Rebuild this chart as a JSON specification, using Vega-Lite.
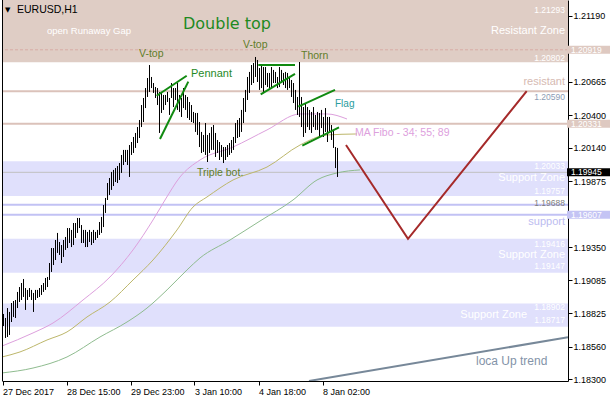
{
  "$schema": "https://vega.github.io/schema/vega-lite/v6.json",
  "width": 566,
  "height": 381,
  "autosize": "none",
  "padding": {"left": 2, "top": 0, "right": 42, "bottom": 19},
  "background": "white",
  "view": {"stroke": null},
  "config": {
    "text": {"font": "Liberation Sans"},
    "axis": {"labelOverlap": false, "labelFlush": false, "grid": false, "tickColor": "black", "domainColor": "black", "labelColor": "black", "labelFont": "Liberation Sans", "labelFontSize": 9, "tickSize": 4}
  },
  "resolve": {"scale": {"color": "independent"}},
  "datasets": {
    "zones": [
      {"p": 1.2082, "p2": 1.2135, "k": "r"},
      {"p": 1.19757, "p2": 1.20033, "k": "s"},
      {"p": 1.19147, "p2": 1.19416, "k": "s"},
      {"p": 1.18717, "p2": 1.18902, "k": "s"}
    ],
    "hlines": [
      {"p": 1.2059, "k": "r"},
      {"p": 1.20331, "k": "r"},
      {"p": 1.19688, "k": "s"},
      {"p": 1.19607, "k": "s"}
    ],
    "bars": [
      {"i":0,"h":1.18819,"l":1.18723},{"i":1,"h":1.18787,"l":1.18628},{"i":2,"h":1.18866,"l":1.18636},{"i":3,"h":1.18835,"l":1.18652},
      {"i":4,"h":1.18906,"l":1.18755},{"i":5,"h":1.18922,"l":1.18795},{"i":6,"h":1.1893,"l":1.18787},{"i":7,"h":1.18994,"l":1.18866},
      {"i":8,"h":1.19033,"l":1.18914},{"i":9,"h":1.19065,"l":1.1893},{"i":10,"h":1.19097,"l":1.18954},{"i":11,"h":1.19025,"l":1.18851},
      {"i":12,"h":1.1901,"l":1.1893},{"i":13,"h":1.19025,"l":1.18954},{"i":14,"h":1.1901,"l":1.1893},{"i":15,"h":1.18986,"l":1.18835},
      {"i":16,"h":1.1901,"l":1.1893},{"i":17,"h":1.1901,"l":1.18946},{"i":18,"h":1.19025,"l":1.18954},{"i":19,"h":1.19049,"l":1.1897},
      {"i":20,"h":1.19065,"l":1.18994},{"i":21,"h":1.19105,"l":1.1901},{"i":22,"h":1.19113,"l":1.19033},{"i":23,"h":1.19224,"l":1.19089},
      {"i":24,"h":1.19343,"l":1.19153},{"i":25,"h":1.19343,"l":1.19208},{"i":26,"h":1.19407,"l":1.19248},{"i":27,"h":1.19463,"l":1.19304},
      {"i":28,"h":1.19391,"l":1.19288},{"i":29,"h":1.19367,"l":1.19224},{"i":30,"h":1.19407,"l":1.19272},{"i":31,"h":1.19431,"l":1.19328},
      {"i":32,"h":1.19502,"l":1.19343},{"i":33,"h":1.19502,"l":1.19383},{"i":34,"h":1.19487,"l":1.19351},{"i":35,"h":1.19542,"l":1.19367},
      {"i":36,"h":1.19542,"l":1.19423},{"i":37,"h":1.19582,"l":1.19463},{"i":38,"h":1.19582,"l":1.19502},{"i":39,"h":1.19526,"l":1.19383},
      {"i":40,"h":1.19487,"l":1.19383},{"i":41,"h":1.19487,"l":1.19351},{"i":42,"h":1.19471,"l":1.19351},{"i":43,"h":1.19487,"l":1.19391},
      {"i":44,"h":1.19471,"l":1.19367},{"i":45,"h":1.19487,"l":1.19383},{"i":46,"h":1.19471,"l":1.19407},{"i":47,"h":1.19487,"l":1.19423},
      {"i":48,"h":1.1955,"l":1.19447},{"i":49,"h":1.1959,"l":1.19463},{"i":50,"h":1.19685,"l":1.1951},{"i":51,"h":1.19741,"l":1.19622},
      {"i":52,"h":1.1986,"l":1.19725},{"i":53,"h":1.199,"l":1.19765},{"i":54,"h":1.19948,"l":1.19805},{"i":55,"h":1.19964,"l":1.19836},
      {"i":56,"h":1.19979,"l":1.19868},{"i":57,"h":1.19995,"l":1.1986},{"i":58,"h":1.20019,"l":1.19884},{"i":59,"h":1.20083,"l":1.1994},
      {"i":60,"h":1.20123,"l":1.20003},{"i":61,"h":1.20123,"l":1.20027},{"i":62,"h":1.20123,"l":1.20003},{"i":63,"h":1.20162,"l":1.19908},
      {"i":64,"h":1.20186,"l":1.20083},{"i":65,"h":1.20226,"l":1.20099},{"i":66,"h":1.20258,"l":1.20139},{"i":67,"h":1.20305,"l":1.20178},
      {"i":68,"h":1.20361,"l":1.20218},{"i":69,"h":1.2048,"l":1.20305},{"i":70,"h":1.20536,"l":1.20345},{"i":71,"h":1.20615,"l":1.20456},
      {"i":72,"h":1.20695,"l":1.20544},{"i":73,"h":1.20798,"l":1.20584},{"i":74,"h":1.20703,"l":1.20615},{"i":75,"h":1.20655,"l":1.20576},
      {"i":76,"h":1.20623,"l":1.20536},{"i":77,"h":1.20615,"l":1.2048},{"i":78,"h":1.20584,"l":1.20258},{"i":79,"h":1.20584,"l":1.20417},
      {"i":80,"h":1.2056,"l":1.20441},{"i":81,"h":1.2056,"l":1.2048},{"i":82,"h":1.20584,"l":1.20504},{"i":83,"h":1.20536,"l":1.20401},
      {"i":84,"h":1.20655,"l":1.20536},{"i":85,"h":1.20615,"l":1.20464},{"i":86,"h":1.20615,"l":1.2052},{"i":87,"h":1.20655,"l":1.20441},
      {"i":88,"h":1.2056,"l":1.20425},{"i":89,"h":1.20536,"l":1.20385},{"i":90,"h":1.20615,"l":1.20456},{"i":91,"h":1.2056,"l":1.20441},
      {"i":92,"h":1.20544,"l":1.20377},{"i":93,"h":1.20504,"l":1.20361},{"i":94,"h":1.2048,"l":1.20345},{"i":95,"h":1.20425,"l":1.20337},
      {"i":96,"h":1.20417,"l":1.20266},{"i":97,"h":1.20417,"l":1.20242},{"i":98,"h":1.20345,"l":1.20146},{"i":99,"h":1.20266,"l":1.20099},
      {"i":100,"h":1.20242,"l":1.20107},{"i":101,"h":1.20337,"l":1.20083},{"i":102,"h":1.20242,"l":1.20027},{"i":103,"h":1.20258,"l":1.20099},
      {"i":104,"h":1.20305,"l":1.20123},{"i":105,"h":1.20321,"l":1.20123},{"i":106,"h":1.20258,"l":1.20067},{"i":107,"h":1.20202,"l":1.20099},
      {"i":108,"h":1.20186,"l":1.20043},{"i":109,"h":1.20162,"l":1.20067},{"i":110,"h":1.20146,"l":1.20019},{"i":111,"h":1.20146,"l":1.20043},
      {"i":112,"h":1.20162,"l":1.20067},{"i":113,"h":1.20178,"l":1.20083},{"i":114,"h":1.20202,"l":1.20099},{"i":115,"h":1.20226,"l":1.20123},
      {"i":116,"h":1.20337,"l":1.20178},{"i":117,"h":1.20361,"l":1.20218},{"i":118,"h":1.20377,"l":1.20226},{"i":119,"h":1.20441,"l":1.20266},
      {"i":120,"h":1.20536,"l":1.20337},{"i":121,"h":1.206,"l":1.20425},{"i":122,"h":1.20703,"l":1.2052},{"i":123,"h":1.20743,"l":1.20576},
      {"i":124,"h":1.20798,"l":1.20639},{"i":125,"h":1.20814,"l":1.20655},{"i":126,"h":1.20862,"l":1.20703},{"i":127,"h":1.20838,"l":1.20663},
      {"i":128,"h":1.20774,"l":1.206},{"i":129,"h":1.20798,"l":1.20615},{"i":130,"h":1.20782,"l":1.20584},{"i":131,"h":1.20782,"l":1.20639},
      {"i":132,"h":1.20735,"l":1.20623},{"i":133,"h":1.20735,"l":1.206},{"i":134,"h":1.20782,"l":1.20623},{"i":135,"h":1.20759,"l":1.20655},
      {"i":136,"h":1.20743,"l":1.20655},{"i":137,"h":1.20703,"l":1.20615},{"i":138,"h":1.20782,"l":1.20623},{"i":139,"h":1.20759,"l":1.20655},
      {"i":140,"h":1.20735,"l":1.20639},{"i":141,"h":1.20743,"l":1.20615},{"i":142,"h":1.20735,"l":1.206},{"i":143,"h":1.20703,"l":1.20615},
      {"i":144,"h":1.20679,"l":1.20544},{"i":145,"h":1.20655,"l":1.20496},{"i":146,"h":1.206,"l":1.20441},{"i":147,"h":1.20544,"l":1.20401},
      {"i":148,"h":1.20822,"l":1.20385},{"i":149,"h":1.20544,"l":1.20305},{"i":150,"h":1.20464,"l":1.20226},{"i":151,"h":1.20496,"l":1.20258},
      {"i":152,"h":1.20464,"l":1.20305},{"i":153,"h":1.20441,"l":1.20282},{"i":154,"h":1.20425,"l":1.20258},{"i":155,"h":1.20464,"l":1.20305},
      {"i":156,"h":1.20401,"l":1.20282},{"i":157,"h":1.20425,"l":1.20282},{"i":158,"h":1.20417,"l":1.20226},{"i":159,"h":1.20441,"l":1.20297},
      {"i":160,"h":1.20385,"l":1.20226},{"i":161,"h":1.20456,"l":1.20266},{"i":162,"h":1.20385,"l":1.20186},{"i":163,"h":1.20385,"l":1.20258},
      {"i":164,"h":1.20321,"l":1.20202},{"i":165,"h":1.20282,"l":1.20139},{"i":166,"h":1.20146,"l":1.19979},{"i":167,"h":1.20139,"l":1.19908}
    ],
    "mas": [
      {"m":"34","i":-0.75,"p":1.18564},{"m":"34","i":14.75,"p":1.18668},{"m":"34","i":24.75,"p":1.18747},{"m":"34","i":39.75,"p":1.1893},
      {"m":"34","i":53.25,"p":1.19113},{"m":"34","i":64.75,"p":1.19328},{"m":"34","i":74.75,"p":1.19566},{"m":"34","i":80.75,"p":1.19725},
      {"m":"34","i":88.25,"p":1.19908},{"m":"34","i":98.25,"p":1.20043},{"m":"34","i":114.75,"p":1.20146},{"m":"34","i":131.75,"p":1.20282},
      {"m":"34","i":148.25,"p":1.20409},{"m":"34","i":161.75,"p":1.20409},{"m":"34","i":171.75,"p":1.20369},
      {"m":"55","i":-0.75,"p":1.18477},{"m":"55","i":8.25,"p":1.18517},{"m":"55","i":21.75,"p":1.18612},{"m":"55","i":31.75,"p":1.18676},
      {"m":"55","i":41.75,"p":1.18795},{"m":"55","i":53.25,"p":1.18914},{"m":"55","i":64.75,"p":1.19089},{"m":"55","i":74.75,"p":1.19248},
      {"m":"55","i":86.75,"p":1.19487},{"m":"55","i":94.75,"p":1.19669},{"m":"55","i":101.75,"p":1.19749},{"m":"55","i":114.75,"p":1.19884},
      {"m":"55","i":131.75,"p":1.19987},{"m":"55","i":148.25,"p":1.20162},{"m":"55","i":161.75,"p":1.20242},{"m":"55","i":176.75,"p":1.2025},
      {"m":"89","i":-0.75,"p":1.1835},{"m":"89","i":14.75,"p":1.18389},{"m":"89","i":31.75,"p":1.18477},{"m":"89","i":48.25,"p":1.18636},
      {"m":"89","i":61.75,"p":1.18755},{"m":"89","i":71.75,"p":1.18866},{"m":"89","i":81.75,"p":1.1901},{"m":"89","i":91.75,"p":1.19169},
      {"m":"89","i":98.25,"p":1.19264},{"m":"89","i":113.25,"p":1.19407},{"m":"89","i":128.25,"p":1.19558},{"m":"89","i":144.75,"p":1.19725},
      {"m":"89","i":156.75,"p":1.19884},{"m":"89","i":166.75,"p":1.1994},{"m":"89","i":178.25,"p":1.19964}
    ],
    "segs": [
      {"i":76.6,"p":1.20554,"i2":91.6,"p2":1.20713},
      {"i":78.25,"p":1.2021,"i2":92.4,"p2":1.20666},
      {"i":127.4,"p":1.20798,"i2":145.75,"p2":1.20798},
      {"i":128.6,"p":1.20565,"i2":145.75,"p2":1.20727},
      {"i":147.4,"p":1.20467,"i2":165.75,"p2":1.206},
      {"i":149.4,"p":1.20157,"i2":167.75,"p2":1.20303}
    ],
    "proj": [
      {"i":171.25,"p":1.20162,"o":1},
      {"i":202.25,"p":1.19416,"o":2},
      {"i":261.6,"p":1.2059,"o":3}
    ],
    "trend": [{"i":152.75,"p":1.18286,"i2":282.25,"p2":1.18634}],
    "texts": [
      {"t":"▼","i":0.75,"p":1.21236,"s":"tri"},
      {"t":"EURUSD,H1","i":6.75,"p":1.21236,"s":"title"},
      {"t":"open Runaway Gap","i":21.75,"p":1.21069,"s":"note"},
      {"t":"Double top","i":89.75,"p":1.21128,"s":"headline"},
      {"t":"Pennant","i":93.75,"p":1.20727,"s":"pattern"},
      {"t":"V-top","i":67.75,"p":1.20886,"s":"marker"},
      {"t":"V-top","i":119.75,"p":1.20961,"s":"marker"},
      {"t":"Thorn","i":148.75,"p":1.2087,"s":"marker"},
      {"t":"Triple bot.","i":96.75,"p":1.19936,"s":"marker"},
      {"t":"Flag","i":165.75,"p":1.20488,"s":"flag"},
      {"t":"MA Fibo - 34; 55; 89","i":175.75,"p":1.20258,"s":"ma"},
      {"t":"loca Up trend","i":236.25,"p":1.18445,"s":"trend"},
      {"t":"1.21293","i":280.75,"p":1.21236,"s":"zoneval"},
      {"t":"Resistant Zone","i":280.75,"p":1.21069,"s":"zone"},
      {"t":"1.20802","i":280.75,"p":1.20854,"s":"zoneval"},
      {"t":"resistant","i":280.75,"p":1.20663,"s":"resist"},
      {"t":"1.20590","i":280.75,"p":1.20544,"s":"resval"},
      {"t":"1.20033","i":280.75,"p":1.19995,"s":"zoneval"},
      {"t":"Support Zone","i":280.75,"p":1.199,"s":"zone"},
      {"t":"1.19757","i":280.75,"p":1.19793,"s":"zoneval"},
      {"t":"1.19688","i":280.75,"p":1.19705,"s":"supval"},
      {"t":"support","i":280.75,"p":1.1955,"s":"support"},
      {"t":"1.19416","i":280.75,"p":1.19379,"s":"zoneval"},
      {"t":"Support Zone","i":280.75,"p":1.19284,"s":"zone"},
      {"t":"1.19147","i":280.75,"p":1.192,"s":"zoneval"},
      {"t":"1.18902","i":280.75,"p":1.18877,"s":"zoneval"},
      {"t":"Support Zone","i":261.75,"p":1.18807,"s":"zone"},
      {"t":"1.18717","i":280.75,"p":1.18771,"s":"zoneval"}
    ],
    "boxes": [
      {"p":1.20919,"k":"r"},
      {"p":1.20331,"k":"r"},
      {"p":1.19607,"k":"s"},
      {"p":1.19945,"k":"c"}
    ]
  },
  "layer": [
    {
      "data": {"name": "zones"},
      "mark": {"type": "rect", "clip": true},
      "encoding": {
        "y": {"field": "p", "type": "quantitative", "scale": {"domain": [1.18286, 1.21315], "nice": false, "zero": false}, "title": null},
        "y2": {"field": "p2"},
        "color": {"field": "k", "type": "nominal", "scale": {"domain": ["r", "s"], "range": ["#dfcdc5", "#e0e0fc"]}, "legend": null}
      }
    },
    {
      "data": {"values": [{"p": 1.20919}]},
      "mark": {"type": "rule", "color": "#d8aca4", "strokeWidth": 1, "strokeDash": [3, 2]},
      "encoding": {
        "y": {"field": "p", "type": "quantitative", "scale": {"domain": [1.18286, 1.21315], "nice": false, "zero": false}, "title": null}
      }
    },
    {
      "data": {"name": "hlines"},
      "mark": {"type": "rule", "strokeWidth": 2},
      "encoding": {
        "y": {"field": "p", "type": "quantitative", "scale": {"domain": [1.18286, 1.21315], "nice": false, "zero": false}, "title": null},
        "color": {"field": "k", "type": "nominal", "scale": {"domain": ["r", "s"], "range": ["#dbc2ba", "#c2c2f4"]}, "legend": null}
      }
    },
    {
      "data": {"values": [{"p": 1.19945}]},
      "mark": {"type": "rule", "color": "#c0c0c0", "strokeWidth": 1},
      "encoding": {
        "y": {"field": "p", "type": "quantitative", "scale": {"domain": [1.18286, 1.21315], "nice": false, "zero": false}, "title": null}
      }
    },
    {
      "data": {"name": "mas"},
      "mark": {"type": "line", "strokeWidth": 1, "interpolate": "monotone"},
      "encoding": {
        "x": {"field": "i", "type": "quantitative", "scale": {"domain": [-0.75, 282.25], "nice": false, "zero": false}, "title": null},
        "y": {"field": "p", "type": "quantitative", "scale": {"domain": [1.18286, 1.21315], "nice": false, "zero": false}, "title": null},
        "color": {"field": "m", "type": "nominal", "scale": {"domain": ["34", "55", "89"], "range": ["#dda0dd", "#bdb76b", "#8fbc8f"]}, "legend": null}
      }
    },
    {
      "data": {"name": "bars"},
      "mark": {"type": "rule", "color": "black", "strokeWidth": 1},
      "encoding": {
        "x": {
          "field": "i", "type": "quantitative", "title": null,
          "scale": {"domain": [-0.75, 282.25], "nice": false, "zero": false},
          "axis": {
            "orient": "bottom", "title": null, "grid": false,
            "values": [-0.5, 31.5, 63.5, 95.5, 127.5, 159.5],
            "labelExpr": "datum.value < 10 ? '27 Dec 2017' : datum.value < 40 ? '28 Dec 15:00' : datum.value < 70 ? '29 Dec 23:00' : datum.value < 100 ? '3 Jan 10:00' : datum.value < 130 ? '4 Jan 18:00' : '8 Jan 02:00'",
            "labelAlign": "left", "labelPadding": 2, "labelFlush": false, "labelOverlap": false
          }
        },
        "y": {
          "field": "h", "type": "quantitative", "title": null,
          "scale": {"domain": [1.18286, 1.21315], "nice": false, "zero": false},
          "axis": {
            "orient": "right", "title": null, "grid": false,
            "values": [1.2119, 1.20665, 1.204, 1.2014, 1.19875, 1.1935, 1.19085, 1.18825, 1.1856, 1.183],
            "format": ".5f", "labelPadding": 1, "labelFlush": false, "labelOverlap": false
          }
        },
        "y2": {"field": "l"}
      }
    },
    {
      "data": {"values": [{}]},
      "mark": {"type": "rule", "color": "black", "strokeWidth": 1},
      "encoding": {
        "x": {"datum": -0.5, "type": "quantitative", "title": null}
      }
    },
    {
      "data": {"name": "segs"},
      "mark": {"type": "rule", "color": "#108a10", "strokeWidth": 2},
      "encoding": {
        "x": {"field": "i", "type": "quantitative", "scale": {"domain": [-0.75, 282.25], "nice": false, "zero": false}, "title": null},
        "y": {"field": "p", "type": "quantitative", "scale": {"domain": [1.18286, 1.21315], "nice": false, "zero": false}, "title": null},
        "x2": {"field": "i2"},
        "y2": {"field": "p2"}
      }
    },
    {
      "data": {"name": "proj"},
      "mark": {"type": "line", "color": "#a52a2a", "strokeWidth": 2},
      "encoding": {
        "x": {"field": "i", "type": "quantitative", "scale": {"domain": [-0.75, 282.25], "nice": false, "zero": false}, "title": null},
        "y": {"field": "p", "type": "quantitative", "scale": {"domain": [1.18286, 1.21315], "nice": false, "zero": false}, "title": null},
        "order": {"field": "o"}
      }
    },
    {
      "data": {"name": "trend"},
      "mark": {"type": "rule", "color": "#778899", "strokeWidth": 2, "clip": true},
      "encoding": {
        "x": {"field": "i", "type": "quantitative", "scale": {"domain": [-0.75, 282.25], "nice": false, "zero": false}, "title": null},
        "y": {"field": "p", "type": "quantitative", "scale": {"domain": [1.18286, 1.21315], "nice": false, "zero": false}, "title": null},
        "x2": {"field": "i2"},
        "y2": {"field": "p2"}
      }
    },
    {
      "data": {"name": "texts"},
      "layer": [
        {"transform": [{"filter": "datum.s === 'tri'"}], "mark": {"type": "text", "align": "left", "baseline": "middle", "color": "#000000", "fontSize": 7, "font": "DejaVu Sans"}},
        {"transform": [{"filter": "datum.s === 'title'"}], "mark": {"type": "text", "align": "left", "baseline": "middle", "color": "#000000", "fontSize": 10.5}},
        {"transform": [{"filter": "datum.s === 'note'"}], "mark": {"type": "text", "align": "left", "baseline": "middle", "color": "#ffffff", "fontSize": 9.5}},
        {"transform": [{"filter": "datum.s === 'headline'"}], "mark": {"type": "text", "align": "left", "baseline": "middle", "color": "#1f8a1f", "fontSize": 16, "font": "DejaVu Sans"}},
        {"transform": [{"filter": "datum.s === 'pattern'"}], "mark": {"type": "text", "align": "left", "baseline": "middle", "color": "#1f8a1f", "fontSize": 11}},
        {"transform": [{"filter": "datum.s === 'marker'"}], "mark": {"type": "text", "align": "left", "baseline": "middle", "color": "#5f7d2a", "fontSize": 10.5}},
        {"transform": [{"filter": "datum.s === 'flag'"}], "mark": {"type": "text", "align": "left", "baseline": "middle", "color": "#2a9d9d", "fontSize": 10}},
        {"transform": [{"filter": "datum.s === 'ma'"}], "mark": {"type": "text", "align": "left", "baseline": "middle", "color": "#dda0dd", "fontSize": 10.5}},
        {"transform": [{"filter": "datum.s === 'trend'"}], "mark": {"type": "text", "align": "left", "baseline": "middle", "color": "#8393a8", "fontSize": 12}},
        {"transform": [{"filter": "datum.s === 'zone'"}], "mark": {"type": "text", "align": "right", "baseline": "middle", "color": "#ffffff", "fontSize": 11}},
        {"transform": [{"filter": "datum.s === 'zoneval'"}], "mark": {"type": "text", "align": "right", "baseline": "middle", "color": "#ffffff", "fontSize": 8.5}},
        {"transform": [{"filter": "datum.s === 'resist'"}], "mark": {"type": "text", "align": "right", "baseline": "middle", "color": "#d6bab2", "fontSize": 11}},
        {"transform": [{"filter": "datum.s === 'resval'"}], "mark": {"type": "text", "align": "right", "baseline": "middle", "color": "#8c9cb4", "fontSize": 8.5}},
        {"transform": [{"filter": "datum.s === 'supval'"}], "mark": {"type": "text", "align": "right", "baseline": "middle", "color": "#808080", "fontSize": 8.5}},
        {"transform": [{"filter": "datum.s === 'support'"}], "mark": {"type": "text", "align": "right", "baseline": "middle", "color": "#bcbcf0", "fontSize": 11}}
      ],
      "encoding": {
        "x": {"field": "i", "type": "quantitative", "scale": {"domain": [-0.75, 282.25], "nice": false, "zero": false}, "title": null},
        "y": {"field": "p", "type": "quantitative", "scale": {"domain": [1.18286, 1.21315], "nice": false, "zero": false}, "title": null},
        "text": {"field": "t"}
      }
    },
    {
      "data": {"name": "boxes"},
      "mark": {"type": "rule", "strokeWidth": 8, "strokeCap": "butt"},
      "encoding": {
        "x": {"datum": 281.75, "type": "quantitative", "title": null},
        "x2": {"datum": 303.5},
        "y": {"field": "p", "type": "quantitative", "scale": {"domain": [1.18286, 1.21315], "nice": false, "zero": false}, "title": null},
        "color": {"field": "k", "type": "nominal", "scale": {"domain": ["r", "s", "c"], "range": ["#dec9c1", "#c4c4f4", "#000000"]}, "legend": null}
      }
    },
    {
      "data": {"name": "boxes"},
      "mark": {"type": "text", "align": "left", "baseline": "middle", "color": "white", "fontSize": 8.5, "font": "Liberation Sans"},
      "encoding": {
        "x": {"datum": 283.75, "type": "quantitative", "title": null},
        "y": {"field": "p", "type": "quantitative", "scale": {"domain": [1.18286, 1.21315], "nice": false, "zero": false}, "title": null},
        "text": {"field": "p", "type": "quantitative", "format": ".5f"}
      }
    }
  ]
}
